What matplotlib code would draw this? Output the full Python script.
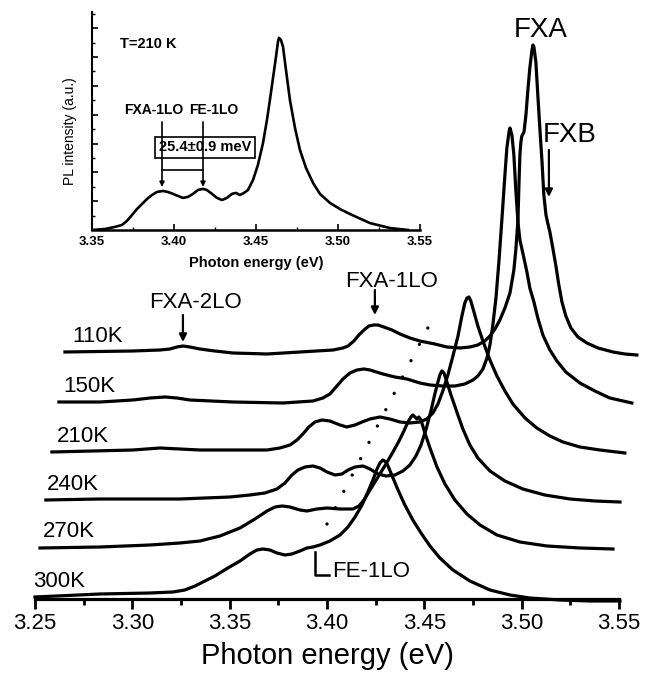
import numpy as np
import matplotlib
matplotlib.use("Agg")
import matplotlib.pyplot as plt
from matplotlib.ticker import MultipleLocator, FormatStrFormatter

plt.rcParams['font.family'] = ['Liberation Sans', 'DejaVu Sans']

# ---- main panel: PL spectra, offset vertically ----
temps = ["110K", "150K", "210K", "240K", "270K", "300K"]
offsets = [2.47, 1.97, 1.47, 0.99, 0.52, 0.02]

e_110 = [3.2654, 3.3003, 3.3142, 3.3193, 3.3229, 3.3260, 3.3296, 3.3347, 3.3424, 3.3517,
         3.3692, 3.3861, 3.4031, 3.4082, 3.4108, 3.4138, 3.4164, 3.4190, 3.4215, 3.4241,
         3.4262, 3.4292, 3.4334, 3.4375, 3.4426, 3.4477, 3.4554, 3.4616, 3.4683, 3.4734,
         3.4775, 3.4811, 3.4837, 3.4863, 3.4888, 3.4914, 3.4940, 3.4960, 3.4970, 3.4981,
         3.4986, 3.4991, 3.4996, 3.5001, 3.5012, 3.5022, 3.5032, 3.5042, 3.5053, 3.5058,
         3.5063, 3.5073, 3.5083, 3.5094, 3.5104, 3.5114, 3.5125, 3.5135, 3.5145, 3.5160,
         3.5176, 3.5191, 3.5207, 3.5227, 3.5253, 3.5289, 3.5335, 3.5392, 3.5469, 3.5530,
         3.5592]
i_110 = [0.00, 0.01, 0.02, 0.03, 0.05, 0.06, 0.05, 0.03, 0.01, -0.01,
         -0.02, 0.00, 0.02, 0.04, 0.06, 0.11, 0.17, 0.22, 0.26, 0.27,
         0.27, 0.25, 0.22, 0.18, 0.14, 0.11, 0.08, 0.05, 0.04, 0.05,
         0.07, 0.11, 0.16, 0.23, 0.32, 0.44, 0.59, 0.82, 1.02, 1.32,
         1.67, 1.97, 2.10, 2.16, 2.20, 2.37, 2.62, 2.84, 3.02, 3.07,
         3.05, 2.90, 2.57, 2.22, 1.92, 1.57, 1.37, 1.28, 1.20, 1.04,
         0.86, 0.67, 0.50, 0.36, 0.24, 0.15, 0.09, 0.04, 0.00, -0.02,
         -0.03]

e_150 = [3.2623, 3.2834, 3.3003, 3.3091, 3.3168, 3.3229, 3.3296, 3.3517, 3.3774, 3.3928,
         3.3979, 3.4015, 3.4051, 3.4082, 3.4118, 3.4154, 3.4190, 3.4221, 3.4287, 3.4349,
         3.4411, 3.4477, 3.4529, 3.4595, 3.4657, 3.4708, 3.4750, 3.4775, 3.4801, 3.4822,
         3.4837, 3.4852, 3.4868, 3.4883, 3.4899, 3.4914, 3.4924, 3.4935, 3.4940, 3.4950,
         3.4960, 3.4970, 3.4981, 3.4991, 3.5006, 3.5027, 3.5042, 3.5063, 3.5083, 3.5109,
         3.5145, 3.5181, 3.5227, 3.5299, 3.5376, 3.5453, 3.5566]
i_150 = [0.00, 0.00, 0.02, 0.04, 0.05, 0.04, 0.02, 0.00, -0.01, 0.01,
         0.04, 0.08, 0.16, 0.23, 0.29, 0.32, 0.33, 0.32, 0.28, 0.25,
         0.23, 0.19, 0.17, 0.16, 0.16, 0.18, 0.22, 0.26, 0.33, 0.44,
         0.57, 0.77, 1.04, 1.40, 1.84, 2.27, 2.54, 2.70, 2.74, 2.67,
         2.47, 2.12, 1.80, 1.62, 1.49, 1.30, 1.14, 1.00, 0.84, 0.67,
         0.52, 0.41, 0.30, 0.19, 0.11, 0.04, -0.01]

e_210 = [3.2587, 3.3003, 3.3142, 3.3347, 3.3692, 3.3758, 3.3810, 3.3846, 3.3876, 3.3907,
         3.3938, 3.3974, 3.4015, 3.4067, 3.4102, 3.4144, 3.4180, 3.4221, 3.4272, 3.4323,
         3.4375, 3.4426, 3.4477, 3.4513, 3.4544, 3.4570, 3.4595, 3.4621, 3.4647, 3.4673,
         3.4693, 3.4708, 3.4719, 3.4729, 3.4739, 3.4755, 3.4775, 3.4801, 3.4837, 3.4873,
         3.4914, 3.4955, 3.5017, 3.5078, 3.5145, 3.5212, 3.5299, 3.5402, 3.5530]
i_210 = [0.00, 0.02, 0.04, 0.02, 0.02, 0.04, 0.07, 0.12, 0.18, 0.25,
         0.30, 0.32, 0.31, 0.27, 0.25, 0.27, 0.30, 0.33, 0.35, 0.33,
         0.30, 0.29, 0.30, 0.33, 0.39, 0.48, 0.61, 0.77, 0.96, 1.16,
         1.36, 1.49, 1.54, 1.55, 1.51, 1.40, 1.26, 1.11, 0.92, 0.76,
         0.61, 0.48, 0.34, 0.24, 0.16, 0.10, 0.05, 0.02, -0.01]

e_240 = [3.2556, 3.2834, 3.3245, 3.3502, 3.3604, 3.3681, 3.3743, 3.3784, 3.3820, 3.3851,
         3.3887, 3.3928, 3.3964, 3.4000, 3.4041, 3.4077, 3.4108, 3.4144, 3.4185, 3.4221,
         3.4262, 3.4303, 3.4349, 3.4390, 3.4426, 3.4457, 3.4483, 3.4508, 3.4534, 3.4554,
         3.4570, 3.4580, 3.4590, 3.4601, 3.4616, 3.4637, 3.4667, 3.4698, 3.4734, 3.4775,
         3.4837, 3.4914, 3.5006, 3.5119, 3.5248, 3.5376, 3.5505]
i_240 = [0.00, 0.01, 0.01, 0.03, 0.05, 0.07, 0.11, 0.17, 0.25, 0.30,
         0.33, 0.34, 0.32, 0.28, 0.25, 0.26, 0.30, 0.33, 0.34, 0.31,
         0.26, 0.24, 0.25, 0.29, 0.35, 0.44, 0.55, 0.70, 0.89, 1.06,
         1.18, 1.25, 1.29, 1.27, 1.18, 1.05, 0.88, 0.71, 0.55, 0.42,
         0.29, 0.19, 0.11, 0.05, 0.01, -0.01, -0.02]

e_270 = [3.2526, 3.2834, 3.3091, 3.3245, 3.3347, 3.3450, 3.3553, 3.3630, 3.3692, 3.3733,
         3.3769, 3.3810, 3.3861, 3.3897, 3.3948, 3.4000, 3.4067, 3.4133, 3.4164, 3.4190,
         3.4221, 3.4262, 3.4303, 3.4339, 3.4370, 3.4395, 3.4416, 3.4431, 3.4441, 3.4452,
         3.4462, 3.4472, 3.4483, 3.4503, 3.4529, 3.4565, 3.4606, 3.4657, 3.4719, 3.4786,
         3.4873, 3.4991, 3.5130, 3.5299, 3.5469]
i_270 = [-0.01, 0.00, 0.02, 0.04, 0.06, 0.11, 0.19, 0.28, 0.36, 0.40,
         0.41, 0.40, 0.37, 0.36, 0.38, 0.39, 0.38, 0.38, 0.41, 0.47,
         0.57, 0.70, 0.83, 0.95, 1.06, 1.16, 1.25, 1.30, 1.32, 1.30,
         1.28, 1.30, 1.27, 1.14, 0.99, 0.80, 0.63, 0.47, 0.33, 0.22,
         0.12, 0.05, 0.01, -0.01, -0.02]

e_300 = [3.2500, 3.2834, 3.3091, 3.3209, 3.3270, 3.3322, 3.3373, 3.3424, 3.3491, 3.3553,
         3.3604, 3.3640, 3.3671, 3.3707, 3.3743, 3.3784, 3.3820, 3.3861, 3.3897, 3.3928,
         3.3964, 3.4015, 3.4067, 3.4108, 3.4144, 3.4180, 3.4210, 3.4236, 3.4257, 3.4272,
         3.4287, 3.4303, 3.4318, 3.4339, 3.4365, 3.4400, 3.4441, 3.4483, 3.4529, 3.4580,
         3.4647, 3.4734, 3.4837, 3.4940, 3.5042, 3.5196, 3.5350, 3.5505]
i_300 = [0.00, 0.03, 0.04, 0.05, 0.07, 0.11, 0.16, 0.21, 0.29, 0.36,
         0.43, 0.47, 0.48, 0.47, 0.44, 0.42, 0.43, 0.46, 0.49, 0.50,
         0.52, 0.56, 0.62, 0.70, 0.80, 0.92, 1.05, 1.17, 1.28, 1.34,
         1.37, 1.35, 1.29, 1.19, 1.07, 0.92, 0.77, 0.64, 0.51, 0.39,
         0.27, 0.16, 0.07, 0.02, -0.01, -0.03, -0.04, -0.04]

energies = [e_110, e_150, e_210, e_240, e_270, e_300]
intens = [i_110, i_150, i_210, i_240, i_270, i_300]

# FE-1LO trend (dotted line), energy / offset intensity
fe_line_e = [3.4518, 3.3979]
fe_line_y = [2.71, 0.67]

# ---- inset: 210 K spectrum ----
ins_e = [3.3500, 3.3579, 3.3640, 3.3683, 3.3713, 3.3744, 3.3774, 3.3805, 3.3835, 3.3866,
         3.3896, 3.3933, 3.3963, 3.3994, 3.4024, 3.4055, 3.4085, 3.4116, 3.4146, 3.4177,
         3.4201, 3.4232, 3.4262, 3.4293, 3.4323, 3.4354, 3.4378, 3.4402, 3.4427, 3.4451,
         3.4482, 3.4512, 3.4543, 3.4567, 3.4585, 3.4604, 3.4622, 3.4634, 3.4640, 3.4652,
         3.4665, 3.4683, 3.4707, 3.4738, 3.4768, 3.4805, 3.4848, 3.4890, 3.4951, 3.5012,
         3.5073, 3.5195, 3.5317, 3.5427]
ins_i = [0.000, 0.005, 0.016, 0.026, 0.047, 0.078, 0.109, 0.135, 0.161, 0.182,
         0.198, 0.203, 0.198, 0.188, 0.177, 0.167, 0.172, 0.188, 0.208, 0.214,
         0.208, 0.188, 0.167, 0.156, 0.167, 0.188, 0.193, 0.182, 0.193, 0.208,
         0.260, 0.339, 0.453, 0.573, 0.677, 0.792, 0.901, 0.979, 1.000, 0.990,
         0.953, 0.833, 0.677, 0.531, 0.417, 0.323, 0.245, 0.188, 0.141, 0.109,
         0.083, 0.036, 0.010, 0.000]

fig = plt.figure(figsize=(6.5, 6.75), dpi=100)
ax = fig.add_axes([0.0538, 0.1126, 0.8985, 0.8874])
ax.set_xlim(3.25, 3.55)
ax.set_ylim(0, 5.99)

ax.plot(fe_line_e, fe_line_y, color="black", lw=2.4, linestyle=(0, (0.01, 5.5)),
        dash_capstyle="round", zorder=1)

for e, i, off in zip(energies, intens, offsets):
    ax.plot(e, np.array(i) + off, color="black", lw=2.3, clip_on=False,
            solid_joinstyle="round", zorder=2)

label_x = [3.2690, 3.2644, 3.2613, 3.2562, 3.2540, 3.2490]
for t, off, lx in zip(temps, offsets, label_x):
    ax.text(lx, off + 0.1, t, fontsize=16, ha="left", va="baseline")

for s in ["left", "right", "top"]:
    ax.spines[s].set_visible(False)
ax.spines["bottom"].set_linewidth(2.3)
ax.set_yticks([])
ax.xaxis.set_major_locator(MultipleLocator(0.05))
ax.xaxis.set_minor_locator(MultipleLocator(0.025))
ax.xaxis.set_major_formatter(FormatStrFormatter("%.2f"))
ax.tick_params(axis="x", which="major", direction="out", length=7, width=2, labelsize=16, pad=3)
ax.tick_params(axis="x", which="minor", direction="out", length=4, width=2)
ax.set_xlabel("Photon energy (eV)", fontsize=21, labelpad=6)

# annotations
arw = dict(arrowstyle="-|>", color="black", lw=1.6, mutation_scale=11, shrinkA=0, shrinkB=0)
ax.annotate("", xy=(3.3260, 2.57), xytext=(3.3260, 2.84), arrowprops=arw)
ax.text(3.3327, 2.91, "FXA-2LO", fontsize=16, ha="center", va="baseline")
ax.annotate("", xy=(3.4246, 2.84), xytext=(3.4246, 3.09), arrowprops=arw)
ax.text(3.4334, 3.12, "FXA-1LO", fontsize=16, ha="center", va="baseline")
ax.text(3.5099, 5.62, "FXA", fontsize=20, ha="center", va="baseline")
ax.text(3.5109, 4.57, "FXB", fontsize=20, ha="left", va="baseline")
ax.annotate("", xy=(3.5140, 4.02), xytext=(3.5140, 4.49), arrowprops=arw)
ax.plot([3.3938, 3.3938, 3.4010], [0.47, 0.24, 0.24], color="black", lw=1.8)
ax.text(3.4025, 0.27, "FE-1LO", fontsize=16, ha="left", va="center")

# ---- inset ----
ins = fig.add_axes([0.1415, 0.6593, 0.5046, 0.323])
ins.patch.set_alpha(0)
ins.plot(ins_e, ins_i, color="black", lw=1.9, solid_joinstyle="round")
ins.set_xlim(3.35, 3.55)
ins.set_ylim(0, 1.135)
for s in ["right", "top"]:
    ins.spines[s].set_visible(False)
ins.spines["left"].set_linewidth(1.5)
ins.spines["bottom"].set_linewidth(1.8)
ins.xaxis.set_major_locator(MultipleLocator(0.05))
ins.xaxis.set_minor_locator(MultipleLocator(0.025))
ins.xaxis.set_major_formatter(FormatStrFormatter("%.2f"))
ins.yaxis.set_major_locator(MultipleLocator(0.15))
ins.yaxis.set_minor_locator(MultipleLocator(0.075))
ins.set_yticklabels([])
ins.tick_params(which="major", direction="in", length=4, width=1.2, labelsize=9.5, pad=4)
ins.tick_params(which="minor", direction="in", length=2.5, width=1.0)
for lab in ins.get_xticklabels():
    lab.set_fontweight("bold")
ins.set_xlabel("Photon energy (eV)", fontsize=10.5, fontweight="bold", labelpad=6)
ins.set_ylabel("PL intensity (a.u.)", fontsize=10)
ins.yaxis.set_label_coords(-0.045, 0.454)

ins.text(3.367, 0.97, "T=210 K", fontsize=10.5, fontweight="bold", ha="left", va="center")
ins.text(3.3878, 0.625, "FXA-1LO", fontsize=10, fontweight="bold", ha="center", va="center")
ins.text(3.4244, 0.625, "FE-1LO", fontsize=10, fontweight="bold", ha="center", va="center")
ins_arw = dict(arrowstyle="-|>", color="black", lw=1.2, mutation_scale=7, shrinkA=0, shrinkB=0)
ins.annotate("", xy=(3.3927, 0.224), xytext=(3.3927, 0.5625), arrowprops=ins_arw)
ins.annotate("", xy=(3.4177, 0.224), xytext=(3.4177, 0.5625), arrowprops=ins_arw)
ins.plot([3.3927, 3.4177], [0.3125, 0.3125], color="black", lw=1.2)
ins.text(3.419, 0.43, "25.4\u00b10.9 meV", fontsize=10.5, fontweight="bold", ha="center", va="center",
         bbox=dict(boxstyle="square,pad=0.25", fc="none", ec="black", lw=1.2))

fig.savefig("out.png", dpi=100)
